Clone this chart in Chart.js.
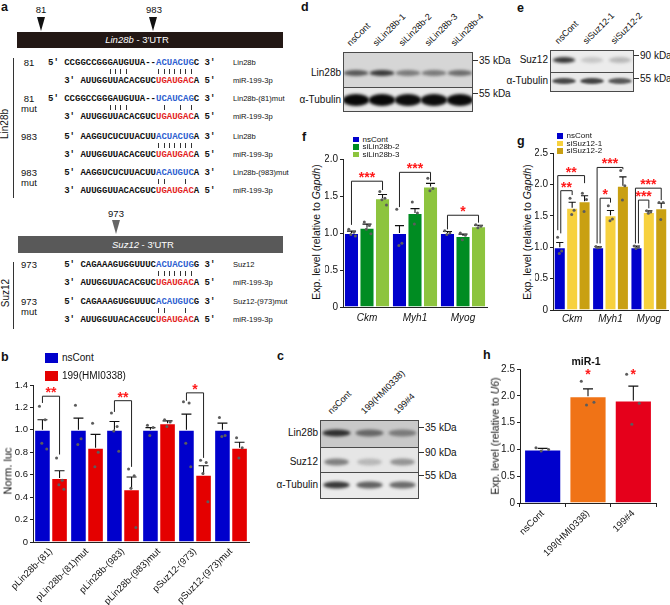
<!DOCTYPE html>
<html>
<head>
<meta charset="utf-8">
<script src="https://cdn.jsdelivr.net/npm/chart.js@4.4.1/dist/chart.umd.min.js"></script>
<style>
  body { margin: 0; background: #fff; }
  #fig { position: relative; width: 670px; height: 605px; overflow: hidden; font-family: 'Liberation Sans', Arial, sans-serif; color: #111; }
  #fig > div, #fig > canvas { position: absolute; }
  .t { white-space: nowrap; line-height: 1; }
  .mono { font-family: 'Liberation Mono', 'Courier New', monospace; font-weight: bold; font-size: 9px; white-space: pre; line-height: 1; }
</style>
</head>
<body>
<div id="fig"></div>
<script>
// ---- b: luciferase reporter ----
const bCategories = ['pLin28b-(81)', 'pLin28b-(81)mut', 'pLin28b-(983)', 'pLin28b-(983)mut', 'pSuz12-(973)', 'pSuz12-(973)mut'];
const bNsCont = [1.0, 1.0, 1.0, 1.0, 1.0, 1.0];
const bNsContSem = [0.09, 0.105, 0.075, 0.02, 0.14, 0.06];
const bNsContPts = [[1.21, 1.09, 0.88, 0.83], [1.22, 0.92, 0.87], [1.15, 1.03, 0.99, 0.81], [1.04, 1.02, 0.95], [1.25, 1.24, 0.88, 0.67], [1.11, 0.95, 0.94]];
const bHmi = [0.57, 0.84, 0.47, 1.06, 0.60, 0.84];
const bHmiSem = [0.065, 0.12, 0.11, 0.02, 0.08, 0.05];
const bHmiPts = [[0.75, 0.55, 0.51, 0.47], [1.06, 0.80, 0.67], [0.65, 0.59, 0.48, 0.13], [1.09, 1.07, 1.03], [0.73, 0.71, 0.61, 0.36], [0.93, 0.84, 0.75]];

// ---- f / g: qPCR ----
const geneLabels = ['Ckm', 'Myh1', 'Myog'];
const fNsCont = [1.0, 1.0, 1.0];
const fNsContSem = [0.025, 0.10, 0.02];
const fNsContPts = [[1.05, 1.01, 0.98, 0.96], [1.32, 0.86, 0.83], [1.03, 1.0, 0.98]];
const fSiLin2 = [1.07, 1.27, 0.96];
const fSiLin2Sem = [0.05, 0.06, 0.025];
const fSiLin2Pts = [[1.15, 1.10, 1.05, 0.99], [1.42, 1.27, 1.12], [1.0, 0.97, 0.91]];
const fSiLin3 = [1.47, 1.63, 1.09];
const fSiLin3Sem = [0.05, 0.04, 0.015];
const fSiLin3Pts = [[1.56, 1.47, 1.45, 1.38], [1.74, 1.60, 1.57], [1.11, 1.09, 1.07]];

const gNsCont = [1.0, 1.0, 1.0];
const gNsContSem = [0.075, 0.01, 0.02];
const gNsContPts = [[1.16, 0.94, 0.90], [1.01, 1.0, 0.99], [1.02, 1.0, 0.98]];
const gSiSuz1 = [1.63, 1.51, 1.56];
const gSiSuz1Sem = [0.085, 0.075, 0.02];
const gSiSuz1Pts = [[1.78, 1.59, 1.52], [1.66, 1.45, 1.42], [1.58, 1.56, 1.54]];
const gSiSuz2 = [1.73, 1.98, 1.62];
const gSiSuz2Sem = [0.09, 0.14, 0.08];
const gSiSuz2Pts = [[1.86, 1.76, 1.57], [2.22, 1.98, 1.75], [1.71, 1.71, 1.44]];

// ---- h: miR-1 ----
const hLabels = ['nsCont', '199(HMI0338)', '199#4'];
const hValues = [1.0, 1.99, 1.91];
const hSem = [0.02, 0.14, 0.27];
const hPts = [[1.03, 1.0, 0.97], [2.27, 1.88, 1.83], [2.40, 1.86, 1.47]];

// significance brackets (value units): dataset a/b in category, top line, leg ends
const bBrackets = [
  { cat: 0, a: 0, b: 1, top: 1.30, endA: 1.24, endB: 0.78, text: '**' },
  { cat: 2, a: 0, b: 1, top: 1.26, endA: 1.16, endB: 0.67, text: '**' },
  { cat: 4, a: 0, b: 1, top: 1.33, endA: 1.26, endB: 0.75, text: '*' }
];
const fBrackets = [
  { cat: 0, a: 0, b: 2, top: 1.70, endA: 1.11, endB: 1.58, text: '***' },
  { cat: 1, a: 0, b: 2, top: 1.82, endA: 1.35, endB: 1.70, text: '***' },
  { cat: 2, a: 0, b: 2, top: 1.24, endA: 1.05, endB: 1.14, text: '*' }
];
const gBrackets = [
  { cat: 0, a: 0, b: 1, top: 1.90, endA: 1.22, endB: 1.83, text: '**', dx: 1 },
  { cat: 0, a: 0, b: 2, top: 2.14, endA: 1.27, endB: 2.02, text: '**', dx: -2 },
  { cat: 1, a: 0, b: 1, top: 1.78, endA: 1.06, endB: 1.71, text: '*', dx: 2 },
  { cat: 1, a: 0, b: 2, top: 2.27, endA: 1.06, endB: 2.24, text: '***', dx: -1 },
  { cat: 2, a: 0, b: 1, top: 1.75, endA: 1.06, endB: 1.62, text: '***', dx: 2 },
  { cat: 2, a: 0, b: 2, top: 1.94, endA: 1.06, endB: 1.75, text: '***', dx: -1 }
];
const hStars = [null, '*', '*'];
const hStarLevel = 2.32;

// ---- western blot band intensities (0..1) ----
const dLanes = ['nsCont', 'siLin28b-1', 'siLin28b-2', 'siLin28b-3', 'siLin28b-4'];
const dLin28b = [0.66, 0.78, 0.52, 0.52, 0.58];
const dTubulin = [0.97, 0.97, 0.95, 0.95, 0.96];
const eLanes = ['nsCont', 'siSuz12-1', 'siSuz12-2'];
const eSuz12 = [0.78, 0.22, 0.28];
const eTubulin = [0.72, 0.74, 0.66];
const cLanes = ['nsCont', '199(HMI0338)', '199#4'];
const cLin28b = [0.82, 0.6, 0.52];
const cSuz12 = [0.5, 0.28, 0.42];
const cTubulin = [0.78, 0.62, 0.58];

const BLUE = '#0000cc', RED = '#e40000', GREEN = '#008c22', LGREEN = '#8dc43e',
      YELLOW = '#f7d13e', GOLD = '#c9a012', ORANGE = '#f07316', HRED = '#e5001b', STAR = '#ff1a1a';

const fig = document.getElementById('fig');

function put(html, x, y, o = {}) {
  const d = document.createElement('div');
  d.className = o.cls || 't';
  d.innerHTML = html;
  d.style.left = x + 'px';
  d.style.top = y + 'px';
  if (o.size) d.style.fontSize = o.size + 'px';
  if (o.bold) d.style.fontWeight = 'bold';
  if (o.color) d.style.color = o.color;
  const ax = o.align === 'right' ? '-100%' : o.align === 'center' ? '-50%' : '0';
  d.style.transform = 'translate(' + ax + ',-50%)' + (o.rot ? ' rotate(' + o.rot + 'deg)' : '');
  fig.appendChild(d);
  return d;
}
function box(x, y, w, h, bg) {
  const d = document.createElement('div');
  Object.assign(d.style, { left: x + 'px', top: y + 'px', width: w + 'px', height: h + 'px', background: bg });
  fig.appendChild(d);
  return d;
}
function tri(cx, y, w, h, col) {
  const d = document.createElement('div');
  Object.assign(d.style, { left: (cx - w / 2) + 'px', top: y + 'px', width: 0, height: 0,
    borderLeft: (w / 2) + 'px solid transparent', borderRight: (w / 2) + 'px solid transparent', borderTop: h + 'px solid ' + col });
  fig.appendChild(d);
}
function slanted(text, x, y, size) {
  const d = document.createElement('div');
  d.className = 't';
  d.textContent = text;
  Object.assign(d.style, { left: x + 'px', top: (y - size) + 'px', fontSize: size + 'px', transformOrigin: '0 100%', transform: 'rotate(-45deg)' });
  fig.appendChild(d);
}

// ---- panel letters ----
[['a', 1, 7], ['b', 1, 357], ['c', 277, 356], ['d', 301, 7], ['e', 517, 8], ['f', 302, 137], ['g', 517, 141], ['h', 483, 355]]
  .forEach(([l, x, y]) => put(l, x, y, { size: 12.5, bold: true }));

// ---- panel a ----
const REG_X = 156, CW = 5.4;
const mir = ['AUUGGUUACACGUC', 'UGAUGAC', 'A'];
const sites = [
  { y: 63, tag: ['81'], target: ['CCGGCCGGGAUGUUA--', 'ACUACUG', 'C'], name: 'Lin28b', pair: [-9, -8, -7, -6, 0, 1, 2, 3, 4, 5, 6] },
  { y: 99, tag: ['81', 'mut'], target: ['CCGGCCGGGAUGUUA--', 'UCAUCAG', 'C'], name: 'Lin28b-(81)mut', pair: [-9, -8, -7, -6, 1, 4, 6] },
  { y: 137, tag: ['983'], target: ['AAGGUCUCUUACUU', 'ACUACUG', 'A'], name: 'Lin28b', pair: [0, 1, 2, 3, 4, 5, 6] },
  { y: 173, tag: ['983', 'mut'], target: ['AAGGUCUCUUACUU', 'ACAUGUC', 'A'], name: 'Lin28b-(983)mut', pair: [0, 1, 5] },
  { y: 265, tag: ['973'], target: ['CAGAAAGUGGUUUC', 'ACUACUG', 'G'], name: 'Suz12', pair: [0, 1, 2, 3, 4, 5, 6] },
  { y: 302, tag: ['973', 'mut'], target: ['CAGAAAGUGGUUUC', 'ACAUGUC', 'G'], name: 'Suz12-(973)mut', pair: [0, 1, 5] }
];
function seqRow(parts, y, left, right, col) {
  const start = REG_X - parts[0].length * CW;
  put(left, start - 3 * CW, y, { cls: 'mono' });
  put(parts[0] + '<span style="color:' + col + '">' + parts[1] + '</span>' + parts[2], start, y, { cls: 'mono' });
  put(right, start + (parts[0].length + parts[1].length + parts[2].length + 1) * CW, y, { cls: 'mono' });
}
sites.forEach(s => {
  put(s.tag[0], 29, s.y, { size: 9.5, align: 'center' });
  if (s.tag[1]) put(s.tag[1], 29, s.y + 10, { size: 9.5, align: 'center' });
  seqRow(s.target, s.y, '5′', '3′', '#2f5fd0');
  s.pair.forEach(c => box(REG_X + (c + 0.5) * CW - 0.5, s.y + 6, 1, 5, '#333'));
  seqRow(mir, s.y + 17.5, '3′', '5′', '#e31e24');
  put(s.name, 233, s.y, { size: 7.6 });
  put('miR-199-3p', 233, s.y + 17.5, { size: 7.6 });
});
box(17, 32, 266, 16, '#231815');
put('<i>Lin28b</i> - 3′UTR', 137, 40, { size: 9.5, align: 'center', color: '#fff' });
tri(41, 17, 9, 14, '#111'); put('81', 41, 10, { size: 9.5, align: 'center' });
tri(153, 17, 9, 14, '#111'); put('983', 154, 10, { size: 9.5, align: 'center' });
box(18, 236, 265, 17, '#595959');
put('<i>Suz12</i> - 3′UTR', 143, 244.5, { size: 9.5, align: 'center', color: '#fff' });
tri(116, 220, 8, 14, '#666'); put('973', 116, 214, { size: 9.5, align: 'center' });
box(13, 58, 1, 140, '#333');
box(13, 262, 1, 67, '#333');
put('Lin28b', 5, 124, { size: 10, align: 'center', rot: -90 });
put('Suz12', 6, 293, { size: 10, align: 'center', rot: -90 });

// ---- western blots ----
function blot(spec) {
  const H = spec.rows.reduce((a, r) => a + r.h, 0);
  const cv = document.createElement('canvas');
  cv.width = spec.w; cv.height = H;
  cv.style.left = spec.x + 'px'; cv.style.top = spec.y + 'px';
  fig.appendChild(cv);
  const ctx = cv.getContext('2d');
  const lw = spec.w / spec.lanes.length;
  let top = 0;
  spec.rows.forEach(r => {
    ctx.save();
    ctx.beginPath(); ctx.rect(0, top, spec.w, r.h); ctx.clip();
    ctx.fillStyle = r.bg; ctx.fillRect(0, top, spec.w, r.h);
    ctx.filter = 'blur(' + r.blur + 'px)';
    r.vals.forEach((v, i) => {
      const g = Math.round(255 * (1 - v));
      ctx.fillStyle = 'rgb(' + g + ',' + g + ',' + g + ')';
      ctx.beginPath();
      ctx.ellipse((i + 0.5) * lw, top + r.cy, lw * r.bw / 2, r.bh / 2, 0, 0, Math.PI * 2);
      ctx.fill();
    });
    ctx.restore();
    put(r.name, spec.x - 2, spec.y + top + r.cy, { size: 10, align: 'right' });
    top += r.h;
  });
  ctx.strokeStyle = '#4a4a4a'; ctx.lineWidth = 1;
  ctx.strokeRect(0.5, 0.5, spec.w - 1, H - 1);
  top = 0;
  spec.rows.forEach((r, k) => {
    if (k) { ctx.beginPath(); ctx.moveTo(0, top + 0.5); ctx.lineTo(spec.w, top + 0.5); ctx.stroke(); }
    top += r.h;
  });
  spec.kda.forEach(([txt, ky]) => {
    box(spec.x + spec.w, ky, 5, 1, '#333');
    put(txt, spec.x + spec.w + 6, ky + 0.5, { size: 10 });
  });
  spec.lanes.forEach((l, i) => slanted(l, spec.x + (i + 0.5) * lw - 4, spec.y - 4, 9));
}
blot({ x: 343, y: 52, w: 130, lanes: dLanes,
  rows: [{ name: 'Lin28b', h: 35, cy: 21, bh: 6, bw: 0.95, blur: 1.6, bg: '#d6d6d6', vals: dLin28b },
         { name: 'α-Tubulin', h: 25, cy: 13, bh: 12, bw: 1.02, blur: 1.5, bg: '#e8e8e8', vals: dTubulin }],
  kda: [['35 kDa', 60], ['55 kDa', 93]] });
blot({ x: 550, y: 50, w: 84, lanes: eLanes,
  rows: [{ name: 'Suz12', h: 22, cy: 10, bh: 6, bw: 0.8, blur: 1.5, bg: '#ececec', vals: eSuz12 },
         { name: 'α-Tubulin', h: 20, cy: 9, bh: 6, bw: 0.85, blur: 1.3, bg: '#e9e9e9', vals: eTubulin }],
  kda: [['90 kDa', 55], ['55 kDa', 78]] });
blot({ x: 320, y: 420, w: 99, lanes: cLanes,
  rows: [{ name: 'Lin28b', h: 27, cy: 13, bh: 7, bw: 0.85, blur: 1.8, bg: '#c9c9c9', vals: cLin28b },
         { name: 'Suz12', h: 25, cy: 15, bh: 7, bw: 0.75, blur: 1.8, bg: '#e6e6e6', vals: cSuz12 },
         { name: 'α-Tubulin', h: 27, cy: 13, bh: 7, bw: 0.8, blur: 1.5, bg: '#ebebeb', vals: cTubulin }],
  kda: [['35 kDa', 427], ['90 kDa', 452], ['55 kDa', 475]] });

// ---- charts ----
Chart.defaults.font.family = "'Liberation Sans', Arial, sans-serif";
Chart.defaults.color = '#111';
const AX = '#222';
const JIT = [-0.18, 0.16, -0.04, 0.26, -0.28];

function overlay(sem, pts, brackets, stars) {
  return {
    id: 'overlay',
    afterDatasetsDraw(chart) {
      const ctx = chart.ctx, ys = chart.scales.y;
      ctx.save();
      chart.data.datasets.forEach((ds, di) => {
        chart.getDatasetMeta(di).data.forEach((bar, j) => {
          const top = ys.getPixelForValue(ds.data[j] + sem[di][j]);
          const half = Math.min(bar.width * 0.3, 5);
          ctx.strokeStyle = '#111'; ctx.lineWidth = 1.1;
          ctx.beginPath();
          ctx.moveTo(bar.x, bar.y); ctx.lineTo(bar.x, top);
          ctx.moveTo(bar.x - half, top); ctx.lineTo(bar.x + half, top);
          ctx.stroke();
          ctx.fillStyle = '#5c5c5c';
          pts[di][j].forEach((v, k) => {
            ctx.beginPath();
            ctx.arc(bar.x + JIT[k % JIT.length] * bar.width, ys.getPixelForValue(v), 1.5, 0, Math.PI * 2);
            ctx.fill();
          });
        });
      });
      ctx.font = 'bold 14px "Liberation Sans", Arial, sans-serif';
      ctx.textAlign = 'center'; ctx.textBaseline = 'alphabetic';
      (brackets || []).forEach(b => {
        const xa = chart.getDatasetMeta(b.a).data[b.cat].x + (b.dx || 0);
        const xb = chart.getDatasetMeta(b.b).data[b.cat].x;
        const yt = ys.getPixelForValue(b.top);
        ctx.strokeStyle = '#222'; ctx.lineWidth = 1;
        ctx.beginPath();
        ctx.moveTo(xa, ys.getPixelForValue(b.endA)); ctx.lineTo(xa, yt);
        ctx.lineTo(xb, yt); ctx.lineTo(xb, ys.getPixelForValue(b.endB));
        ctx.stroke();
        ctx.fillStyle = STAR;
        ctx.fillText(b.text, (xa + xb) / 2, yt + 1);
      });
      if (stars) {
        ctx.fillStyle = STAR;
        chart.getDatasetMeta(0).data.forEach((bar, j) => {
          if (stars.marks[j]) ctx.fillText(stars.marks[j], bar.x, ys.getPixelForValue(stars.level));
        });
      }
      ctx.restore();
    }
  };
}

function yAxis(max, step, width, size) {
  return {
    min: 0, max: max,
    ticks: { stepSize: step, font: { size: size }, padding: 2, color: '#111',
      callback: v => (Math.abs(v) < 1e-9 ? '0' : v.toFixed(1)) },
    grid: { drawOnChartArea: false, tickLength: 3, color: AX, lineWidth: 1 },
    border: { color: AX, width: 1 },
    afterFit: s => { s.width = width; }
  };
}
function makeCanvas(x, y, w, h) {
  const cv = document.createElement('canvas');
  cv.width = w; cv.height = h;
  cv.style.left = x + 'px'; cv.style.top = y + 'px';
  fig.appendChild(cv);
  return cv;
}
const common = { responsive: false, animation: false, devicePixelRatio: 1,
  plugins: { legend: { display: false }, tooltip: { enabled: false } } };
const edge = 'rgba(255,255,255,0.45)';

// b
new Chart(makeCanvas(0, 375, 255, 230), {
  type: 'bar',
  data: { labels: bCategories, datasets: [
    { label: 'nsCont', data: bNsCont, backgroundColor: BLUE, borderColor: edge, borderWidth: 1 },
    { label: '199(HMI0338)', data: bHmi, backgroundColor: RED, borderColor: edge, borderWidth: 1 }] },
  options: Object.assign({}, common, {
    layout: { padding: { top: 10, right: 6, left: 0, bottom: 0 } },
    datasets: { bar: { categoryPercentage: 0.95, barPercentage: 0.97 } },
    scales: {
      x: { grid: { display: false, drawTicks: false }, border: { color: AX },
        ticks: { autoSkip: false, minRotation: 45, maxRotation: 45, padding: 4, font: { size: 9.5 } },
        afterFit: s => { s.height = 63; } },
      y: yAxis(1.4, 0.2, 33, 9.5)
    } }),
  plugins: [overlay([bNsContSem, bHmiSem], [bNsContPts, bHmiPts], bBrackets)]
});

// f
new Chart(makeCanvas(325, 150, 165, 177), {
  type: 'bar',
  data: { labels: geneLabels, datasets: [
    { label: 'nsCont', data: fNsCont, backgroundColor: BLUE, borderColor: edge, borderWidth: 1 },
    { label: 'siLin28b-2', data: fSiLin2, backgroundColor: GREEN, borderColor: edge, borderWidth: 1 },
    { label: 'siLin28b-3', data: fSiLin3, backgroundColor: LGREEN, borderColor: edge, borderWidth: 1 }] },
  options: Object.assign({}, common, {
    layout: { padding: { top: 9, right: 3, left: 0, bottom: 0 } },
    datasets: { bar: { categoryPercentage: 0.97, barPercentage: 0.97 } },
    scales: {
      x: { grid: { display: false, drawTicks: false }, border: { color: AX },
        ticks: { padding: 5, font: { size: 10, style: 'italic' } },
        afterFit: s => { s.height = 20; } },
      y: yAxis(2.0, 0.5, 18, 10)
    } }),
  plugins: [overlay([fNsContSem, fSiLin2Sem, fSiLin3Sem], [fNsContPts, fSiLin2Pts, fSiLin3Pts], fBrackets)]
});

// g
new Chart(makeCanvas(535, 145, 135, 185), {
  type: 'bar',
  data: { labels: geneLabels, datasets: [
    { label: 'nsCont', data: gNsCont, backgroundColor: BLUE, borderColor: edge, borderWidth: 1 },
    { label: 'siSuz12-1', data: gSiSuz1, backgroundColor: YELLOW, borderColor: edge, borderWidth: 1 },
    { label: 'siSuz12-2', data: gSiSuz2, backgroundColor: GOLD, borderColor: edge, borderWidth: 1 }] },
  options: Object.assign({}, common, {
    layout: { padding: { top: 8, right: 2, left: 0, bottom: 0 } },
    datasets: { bar: { categoryPercentage: 0.97, barPercentage: 0.97 } },
    scales: {
      x: { grid: { display: false, drawTicks: false }, border: { color: AX },
        ticks: { padding: 3, font: { size: 10, style: 'italic' } },
        afterFit: s => { s.height = 20; } },
      y: yAxis(2.5, 0.5, 18, 10)
    } }),
  plugins: [overlay([gNsContSem, gSiSuz1Sem, gSiSuz2Sem], [gNsContPts, gSiSuz1Pts, gSiSuz2Pts], gBrackets)]
});

// h
new Chart(makeCanvas(500, 355, 170, 210), {
  type: 'bar',
  data: { labels: hLabels, datasets: [
    { label: 'miR-1', data: hValues, backgroundColor: [BLUE, ORANGE, HRED], borderColor: 'rgba(255,255,255,0.5)', borderWidth: 1 }] },
  options: Object.assign({}, common, {
    layout: { padding: { top: 14, right: 14, left: 0, bottom: 0 } },
    datasets: { bar: { categoryPercentage: 0.82, barPercentage: 1.0 } },
    scales: {
      x: { grid: { drawOnChartArea: false, tickLength: 4, color: AX }, border: { color: AX },
        ticks: { autoSkip: false, minRotation: 45, maxRotation: 45, padding: 1, font: { size: 9.5 } },
        afterFit: s => { s.height = 62; } },
      y: yAxis(2.5, 0.5, 20, 10)
    } }),
  plugins: [overlay([hSem], [hPts], null, { marks: hStars, level: hStarLevel })]
});

// legends and axis titles
function legend(items, x, y, sw, sh, gap, size) {
  items.forEach(([lab, col], i) => {
    const cy = y + i * gap;
    box(x, cy - sh / 2, sw, sh, col);
    put(lab, x + sw + 4, cy, { size: size });
  });
}
legend([['nsCont', BLUE], ['199(HMI0338)', RED]], 45, 358, 13, 10, 18, 10);
legend([['nsCont', BLUE], ['siLin28b-2', GREEN], ['siLin28b-3', LGREEN]], 353, 139.5, 5.5, 5.5, 7.5, 8);
legend([['nsCont', BLUE], ['siSuz12-1', YELLOW], ['siSuz12-2', GOLD]], 557, 136, 5.5, 5.5, 7.5, 8);
put('Norm. luc', 8, 471, { size: 11, align: 'center', rot: -90 });
put('Exp. level (relative to <i>Gapdh</i>)', 316, 232, { size: 10.5, align: 'center', rot: -90 });
put('Exp. level (relative to <i>Gapdh</i>)', 527, 232, { size: 10.5, align: 'center', rot: -90 });
put('Exp. level (relative to <i>U6</i>)', 495, 436, { size: 10.5, align: 'center', rot: -90 });
put('miR-1', 586, 361, { size: 10.5, bold: true, align: 'center' });
</script>
</body>
</html>
